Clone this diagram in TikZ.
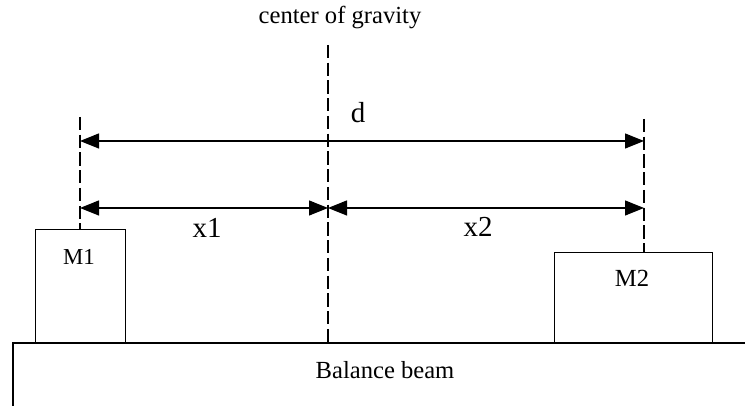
\documentclass[tikz,border=0pt]{standalone}
\usepackage{fontspec}
\setmainfont{Liberation Serif}
\usetikzlibrary{arrows.meta,positioning}

\begin{document}
\begin{tikzpicture}[>={Triangle[length=0.38cm,width=0.3cm]}, line width=0.7pt,
    massbox/.style={rectangle, draw, anchor=south west, inner sep=0pt},
    guide/.style={dash pattern=on 7.5pt off 2.6pt},
    dim/.style={<->},
    lbl/.style={font=\fontsize{14}{16}\selectfont},
    biglbl/.style={font=\fontsize{16.5}{19}\selectfont}]
    \useasboundingbox (0,0) rectangle (14.9,8.12);

    % Balance beam
    \draw (0.26,-0.5) rectangle (15.5,1.26);
    \node[lbl] (beam) at (7.70,0.72) {Balance beam};

    % Masses
    \node[massbox, minimum width=1.8cm, minimum height=2.26cm] (m1) at (0.70,1.26) {};
    \node[massbox, minimum width=3.16cm, minimum height=1.80cm] (m2) at (11.08,1.26) {};
    \node[font=\fontsize{13}{15}\selectfont] (m1lbl) at (1.58,2.98) {M1};
    \node[lbl] (m2lbl) at (12.64,2.56) {M2};

    % Guide lines
    \coordinate (ltop) at (1.60,5.78);
    \coordinate (ctop) at (6.56,7.22);
    \coordinate (cbot) at (6.56,1.26);
    \coordinate (rtop) at (12.88,5.74);
    \draw[guide] (ltop) -- (ltop |- m1.north);
    \draw[guide] (ctop) -- (cbot);
    \draw[guide] (rtop) -- (rtop |- m2.north);
    \node[lbl] (cog) at (6.80,7.76) {center of gravity};

    % Distances
    \coordinate (dl) at (1.60,5.30);
    \coordinate (dr) at (12.88,5.30);
    \coordinate (xl) at (1.60,3.96);
    \coordinate (xc) at (6.56,3.96);
    \coordinate (xr) at (12.88,3.96);
    \draw[dim] (dl) -- (dr);
    \draw[dim] (xl) -- (xc);
    \draw[dim] (xc) -- (xr);
    \node[biglbl] (dlbl) at (7.16,5.86) {d};
    \node[biglbl] (x1lbl) at (4.14,3.56) {x1};
    \node[biglbl] (x2lbl) at (9.56,3.58) {x2};
\end{tikzpicture}
\end{document}
